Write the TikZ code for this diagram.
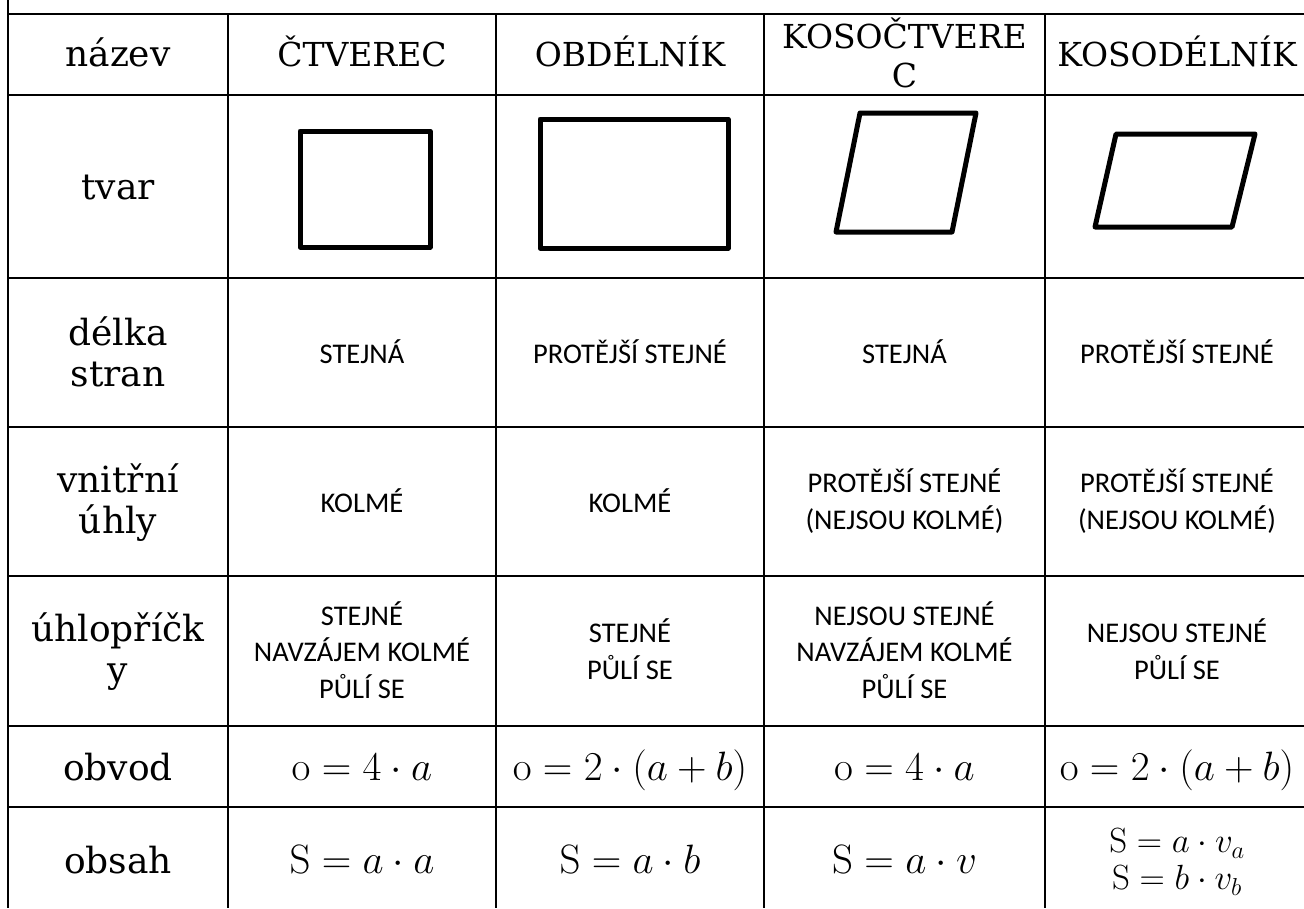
\RequirePackage{fix-cm}
\documentclass[tikz,border=0pt]{standalone}
\usepackage[no-math]{fontspec}
\setmainfont{DejaVu Serif}
\newfontfamily\bodyfont{Carlito}
\begin{document}
\begin{tikzpicture}[x=1pt,y=-1pt,
  gridline/.style={line width=1.8pt, black},
  shapeline/.style={line width=5pt, black, line join=round},
  lab/.style={font=\fontsize{36}{41}\selectfont, align=center, inner sep=0pt},
  head/.style={font=\fontsize{33}{39}\selectfont, align=center, inner sep=0pt},
  cell/.style={font=\bodyfont\fontsize{28.5}{36.5}\selectfont, align=center, inner sep=0pt},
  frm/.style={font=\fontsize{41}{41}\selectfont, inner sep=0pt, anchor=base},
  frmsmall/.style={font=\fontsize{35}{37}\selectfont, inner sep=0pt, align=center}]
\fill[white] (0,0) rectangle (1304,908);
\useasboundingbox (0,0) rectangle (1304,908);
% grid
\foreach \yy in {14,95,278,427,576,726,807}
  \draw[gridline] (8,\yy) -- (1304,\yy);
\draw[gridline] (8,0) -- (8,908);
\foreach \xx in {228,496,764,1045}
  \draw[gridline] (\xx,14) -- (\xx,908);
% header row
\node[lab, anchor=base] (hname) at (118,66) {název};
\node[head, anchor=base] (h1) at (362,66) {ČTVEREC};
\node[head, anchor=base] (h2) at (630,66) {OBDÉLNÍK};
\node[head] (h3) at (904.5,52.5) {KOSOČTVERE\\C};
\node[head, anchor=base] (h4) at (1177,66) {KOSODÉLNÍK};
% row labels
\node[lab, anchor=base] (ltvar) at (118,199) {tvar};
\node[lab] (ldelka) at (118,352) {délka\\stran};
\node[lab] (luhly) at (118,503) {vnitřní\\úhly};
\node[lab] (luhlo) at (118,652) {úhlopříčk\\y};
\node[lab, anchor=base] (lobvod) at (118,780) {obvod};
\node[lab, anchor=base] (lobsah) at (118,873) {obsah};
% shapes
\draw[shapeline] (300,131) rectangle (430,247);
\draw[shapeline] (540,119) rectangle (728,248);
\draw[shapeline] (860,113) -- (976,113) -- (952,232) -- (836,232) -- cycle;
\draw[shapeline] (1116,134) -- (1255,134) -- (1232,227) -- (1095,227) -- cycle;
% side lengths
\node[cell] (d1) at (362,352) {STEJNÁ};
\node[cell] (d2) at (630,352) {PROTĚJŠÍ STEJNÉ};
\node[cell] (d3) at (904.5,352) {STEJNÁ};
\node[cell] (d4) at (1177,352) {PROTĚJŠÍ STEJNÉ};
% angles
\node[cell] (u1) at (362,501) {KOLMÉ};
\node[cell] (u2) at (630,501) {KOLMÉ};
\node[cell] (u3) at (904.5,501) {PROTĚJŠÍ STEJNÉ\\(NEJSOU KOLMÉ)};
\node[cell] (u4) at (1177,501) {PROTĚJŠÍ STEJNÉ\\(NEJSOU KOLMÉ)};
% diagonals
\node[cell] (g1) at (362,650) {STEJNÉ\\NAVZÁJEM KOLMÉ\\PŮLÍ SE};
\node[cell] (g2) at (630,649) {STEJNÉ\\PŮLÍ SE};
\node[cell] (g3) at (904.5,650) {NEJSOU STEJNÉ\\NAVZÁJEM KOLMÉ\\PŮLÍ SE};
\node[cell] (g4) at (1177,649) {NEJSOU STEJNÉ\\PŮLÍ SE};
% perimeter
\node[frm] (o1) at (362,780) {$\mathrm{o} = 4\cdot a$};
\node[frm] (o2) at (630,780) {$\mathrm{o} = 2\cdot(a+b)$};
\node[frm] (o3) at (904.5,780) {$\mathrm{o} = 4\cdot a$};
\node[frm] (o4) at (1177,780) {$\mathrm{o} = 2\cdot(a+b)$};
% area
\node[frm] (s1) at (362,873) {$\mathrm{S} = a\cdot a$};
\node[frm] (s2) at (630,873) {$\mathrm{S} = a\cdot b$};
\node[frm] (s3) at (904.5,873) {$\mathrm{S} = a\cdot v$};
\node[frmsmall] (s4) at (1177,862) {$\mathrm{S} = a\cdot v_a$\\$\mathrm{S} = b\cdot v_b$};
\end{tikzpicture}
\end{document}
